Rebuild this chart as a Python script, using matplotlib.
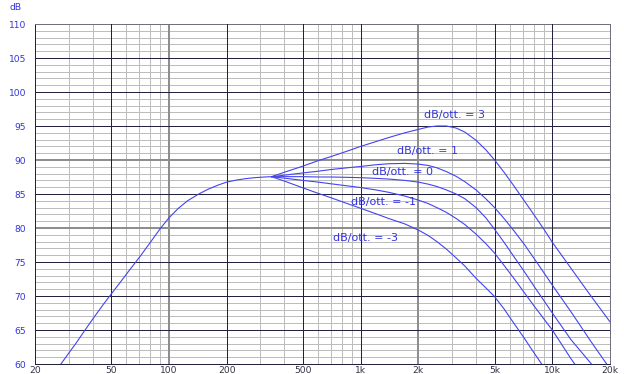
import matplotlib
matplotlib.use("Agg")
import matplotlib.pyplot as plt
from matplotlib.ticker import NullLocator

# ---- data ----
base_freq = [27.3, 30, 33, 36.5, 40, 45, 50, 56, 63, 71, 80, 90, 100, 112, 125, 143,
             160, 180, 200, 225, 250, 280, 315, 343]
base_db = [60.0, 61.6, 63.2, 65.0, 66.6, 68.6, 70.3, 72.1, 74.0, 75.9, 77.9, 79.9, 81.5,
           82.9, 84.0, 85.0, 85.7, 86.3, 86.75, 87.05, 87.25, 87.4, 87.5, 87.55]

branch_freq = [343, 400, 500, 600, 700, 850, 1000, 1200, 1400, 1700, 2000, 2250, 2500,
               2800, 3150, 3500, 4000, 4500, 5000, 5600, 6300, 7100, 8000, 9000, 10000,
               12500, 16000, 20000]
db_slope_p3 = [87.55, 88.2, 89.1, 89.9, 90.5, 91.3, 92.0, 92.7, 93.3, 94.0, 94.5, 94.85,
               95.0, 95.0, 94.7, 94.1, 92.9, 91.5, 90.0, 88.2, 86.2, 84.1, 82.0, 79.9,
               77.9, 74.1, 69.9, 66.2]
db_slope_p1 = [87.55, 87.77, 88.1, 88.35, 88.6, 88.85, 89.05, 89.3, 89.45, 89.5, 89.4,
               89.2, 88.85, 88.3, 87.6, 86.8, 85.6, 84.3, 83.0, 81.4, 79.6, 77.7, 75.6,
               73.5, 71.6, 67.7, 63.2, 59.3]
db_slope_0 = [87.55, 87.55, 87.55, 87.5, 87.5, 87.45, 87.4, 87.3, 87.2, 87.0, 86.75,
              86.45, 86.1, 85.6, 85.0, 84.3, 83.0, 81.5, 79.8, 77.9, 75.8, 73.7, 71.5,
              69.4, 67.5, 63.6, 60.0, 56.3]
db_slope_m1 = [87.55, 87.33, 87.0, 86.75, 86.5, 86.2, 85.95, 85.6, 85.25, 84.7, 84.1,
               83.6, 83.0, 82.3, 81.4, 80.5, 79.1, 77.7, 76.3, 74.5, 72.6, 70.6, 68.6,
               66.7, 65.0, 60.8, 56.5, 52.6]
db_slope_m3 = [87.55, 86.9, 85.9, 85.1, 84.45, 83.6, 82.9, 82.1, 81.4, 80.6, 79.7, 78.9,
               78.0, 76.9, 75.6, 74.4, 72.6, 71.2, 69.9, 68.1, 66.0, 63.9, 61.7, 59.6,
               57.7, 53.6, 49.2, 45.2]

labels = ["dB/ott. = 3", "dB/ott. = 1", "dB/ott. = 0", "dB/ott. = -1", "dB/ott. = -3"]
label_freq = [2140, 1540, 1140, 888, 720]
label_db = [96.6, 91.35, 88.2, 83.8, 78.5]

x_ticks = [20, 50, 100, 200, 500, 1000, 2000, 5000, 10000, 20000]
x_tick_labels = ["20", "50", "100", "200", "500", "1k", "2k", "5k", "10k", "20k"]
y_ticks = [60, 65, 70, 75, 80, 85, 90, 95, 100, 105, 110]

grid_x_minor = [30, 40, 60, 70, 80, 90, 300, 400, 600, 700, 800, 900,
                3000, 4000, 6000, 7000, 8000, 9000]
grid_x_major = [50, 200, 500, 1000, 5000, 10000]
grid_x_mid = [100, 2000]
grid_y_major = [65, 70, 75, 85, 95, 100, 105]
grid_y_mid = [80, 90]

# ---- styling ----
LINE = "#4444ee"
BLUE_TXT = "#3333dd"
DARK = "#22223f"
MID = "#8e8e8e"
LIGHT = "#bdbdbd"
PX = 0.72  # one pixel at 100 dpi

fig = plt.figure(figsize=(6.24, 3.74), dpi=100)
fig.patch.set_facecolor("white")
ax = fig.add_axes([35 / 624, 10 / 374, 575 / 624, 340 / 374])
ax.set_xscale("log")
ax.set_xlim(20, 20000)
ax.set_ylim(60, 110)

# grid
for y in range(61, 110):
    if y % 5 != 0:
        ax.axhline(y, color=LIGHT, lw=PX, zorder=1)
for x in grid_x_minor:
    ax.axvline(x, color=LIGHT, lw=PX, zorder=1)
for x in grid_x_mid:
    ax.axvline(x, color=MID, lw=2 * PX, zorder=2)
for y in grid_y_mid:
    ax.axhline(y, color=MID, lw=2 * PX, zorder=2)
for x in grid_x_major:
    ax.axvline(x, color=DARK, lw=PX, zorder=3)
for y in grid_y_major:
    ax.axhline(y, color=DARK, lw=PX, zorder=3)

# curves
ax.plot(base_freq, base_db, color=LINE, lw=0.8, zorder=5)
for series in [db_slope_p3, db_slope_p1, db_slope_0, db_slope_m1, db_slope_m3]:
    ax.plot(branch_freq, series, color=LINE, lw=0.8, zorder=5)

for txt, fx, fy in zip(labels, label_freq, label_db):
    ax.text(fx, fy, txt, color=BLUE_TXT, fontsize=8, va="center", ha="left",
            family="DejaVu Sans", zorder=6)

# axes / ticks
ax.set_xticks(x_ticks)
ax.set_xticklabels(x_tick_labels)
ax.xaxis.set_minor_locator(NullLocator())
ax.set_yticks(y_ticks)
ax.set_yticklabels([str(v) for v in y_ticks])
ax.tick_params(axis="both", length=0)
ax.tick_params(axis="x", pad=1.5, labelsize=6.6, labelcolor="#333344")
ax.tick_params(axis="y", pad=6.5, labelsize=6.6, labelcolor=BLUE_TXT)

for side in ["left", "bottom"]:
    ax.spines[side].set_color(DARK)
    ax.spines[side].set_linewidth(PX)
for side in ["top", "right"]:
    ax.spines[side].set_color("#70707e")
    ax.spines[side].set_linewidth(PX)

fig.text(16 / 624, 1 - 7.3 / 374, "dB", color=BLUE_TXT, fontsize=6.6,
         ha="center", va="center")

fig.savefig("out.png", dpi=100)
